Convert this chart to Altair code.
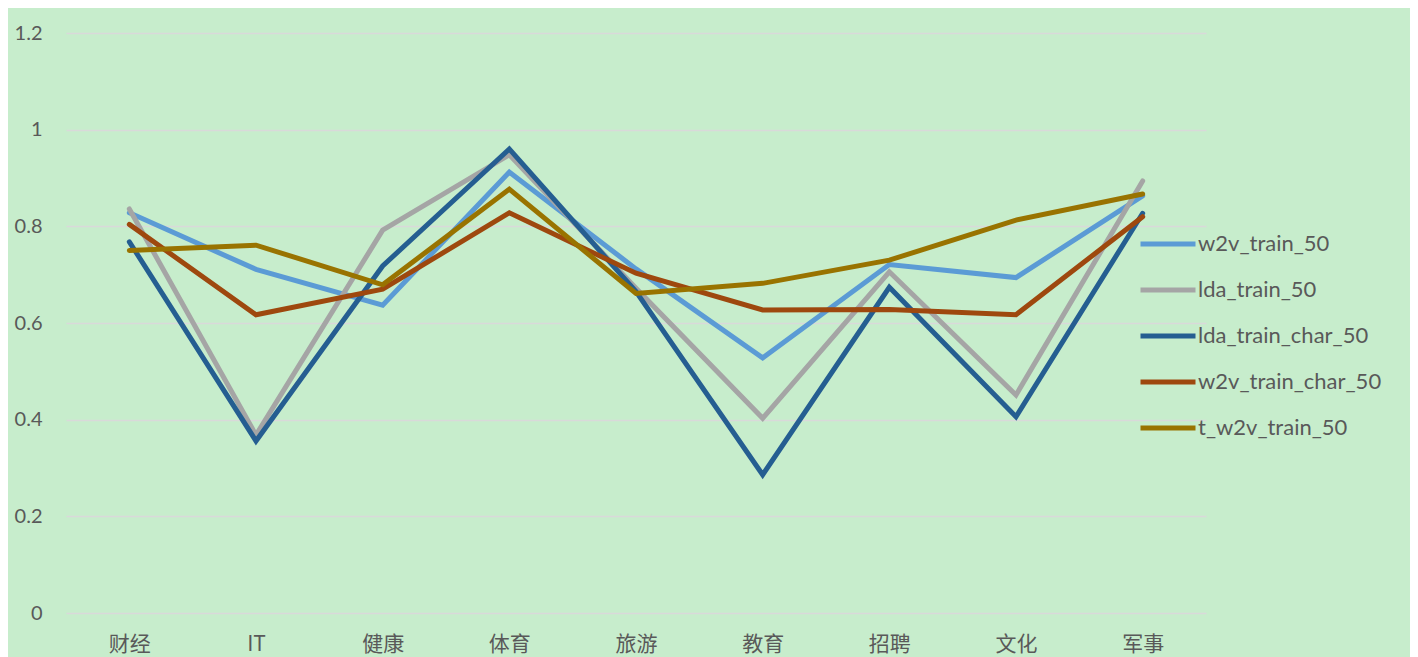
import altair as alt
import pandas as pd

categories = ["财经", "IT", "健康", "体育", "旅游", "教育", "招聘", "文化", "军事"]
series_names = ["w2v_train_50", "lda_train_50", "lda_train_char_50", "w2v_train_char_50", "t_w2v_train_50"]

w2v_train_50 = [0.828, 0.711, 0.637, 0.912, 0.712, 0.528, 0.721, 0.694, 0.863]
lda_train_50 = [0.836, 0.368, 0.792, 0.948, 0.672, 0.403, 0.706, 0.451, 0.894]
lda_train_char_50 = [0.768, 0.356, 0.718, 0.960, 0.665, 0.286, 0.674, 0.406, 0.827]
w2v_train_char_50 = [0.804, 0.617, 0.670, 0.828, 0.703, 0.627, 0.628, 0.617, 0.820]
t_w2v_train_50 = [0.750, 0.761, 0.679, 0.877, 0.661, 0.682, 0.730, 0.813, 0.867]

colors = ["#5B9BD5", "#A5A5A5", "#255E91", "#9E480E", "#997300"]

all_values = [w2v_train_50, lda_train_50, lda_train_char_50, w2v_train_char_50, t_w2v_train_50]
rows = []
for name, vals in zip(series_names, all_values):
    for c, v in zip(categories, vals):
        rows.append({"category": c, "series": name, "value": v})
df = pd.DataFrame(rows)

chart = alt.Chart(df).mark_line(strokeWidth=5, strokeCap="round").encode(
    x=alt.X("category:N", sort=categories, title=None,
            scale=alt.Scale(type="point", padding=0.5),
            axis=alt.Axis(labelAngle=0, labelFont="Noto Sans CJK SC", labelFontSize=21,
                          labelColor="#595959", labelPadding=20, domain=False, ticks=False,
                          grid=False)),
    y=alt.Y("value:Q", title=None,
            scale=alt.Scale(domain=[0, 1.2], nice=False),
            axis=alt.Axis(values=[0, 0.2, 0.4, 0.6, 0.8, 1.0, 1.2], format="~g",
                          labelFont="Lato", labelFontSize=20, labelColor="#595959",
                          labelPadding=24, domain=False, ticks=False,
                          gridColor="#D9D9D9", gridWidth=1.5)),
    color=alt.Color("series:N", sort=series_names,
                    scale=alt.Scale(domain=series_names, range=colors),
                    legend=alt.Legend(orient="none", legendX=1072, legendY=181, title=None,
                                      symbolType="stroke", symbolSize=3025,
                                      symbolStrokeWidth=5, labelFont="Lato",
                                      labelFontSize=22, labelColor="#595959",
                                      labelOffset=0, rowPadding=5, labelLimit=400)),
    order=alt.Order("series_order:Q"),
).transform_calculate(
    series_order="indexof(" + str(series_names) + ", datum.series)"
).properties(
    width=1140, height=580,
    autosize=alt.AutoSizeParams(type="none"),
    padding={"left": 58, "top": 25, "right": 204, "bottom": 44},
).configure(background="#C7EDCC").configure_view(stroke=None)

chart.save("out.html", embed_options={"renderer": "svg", "actions": False})
